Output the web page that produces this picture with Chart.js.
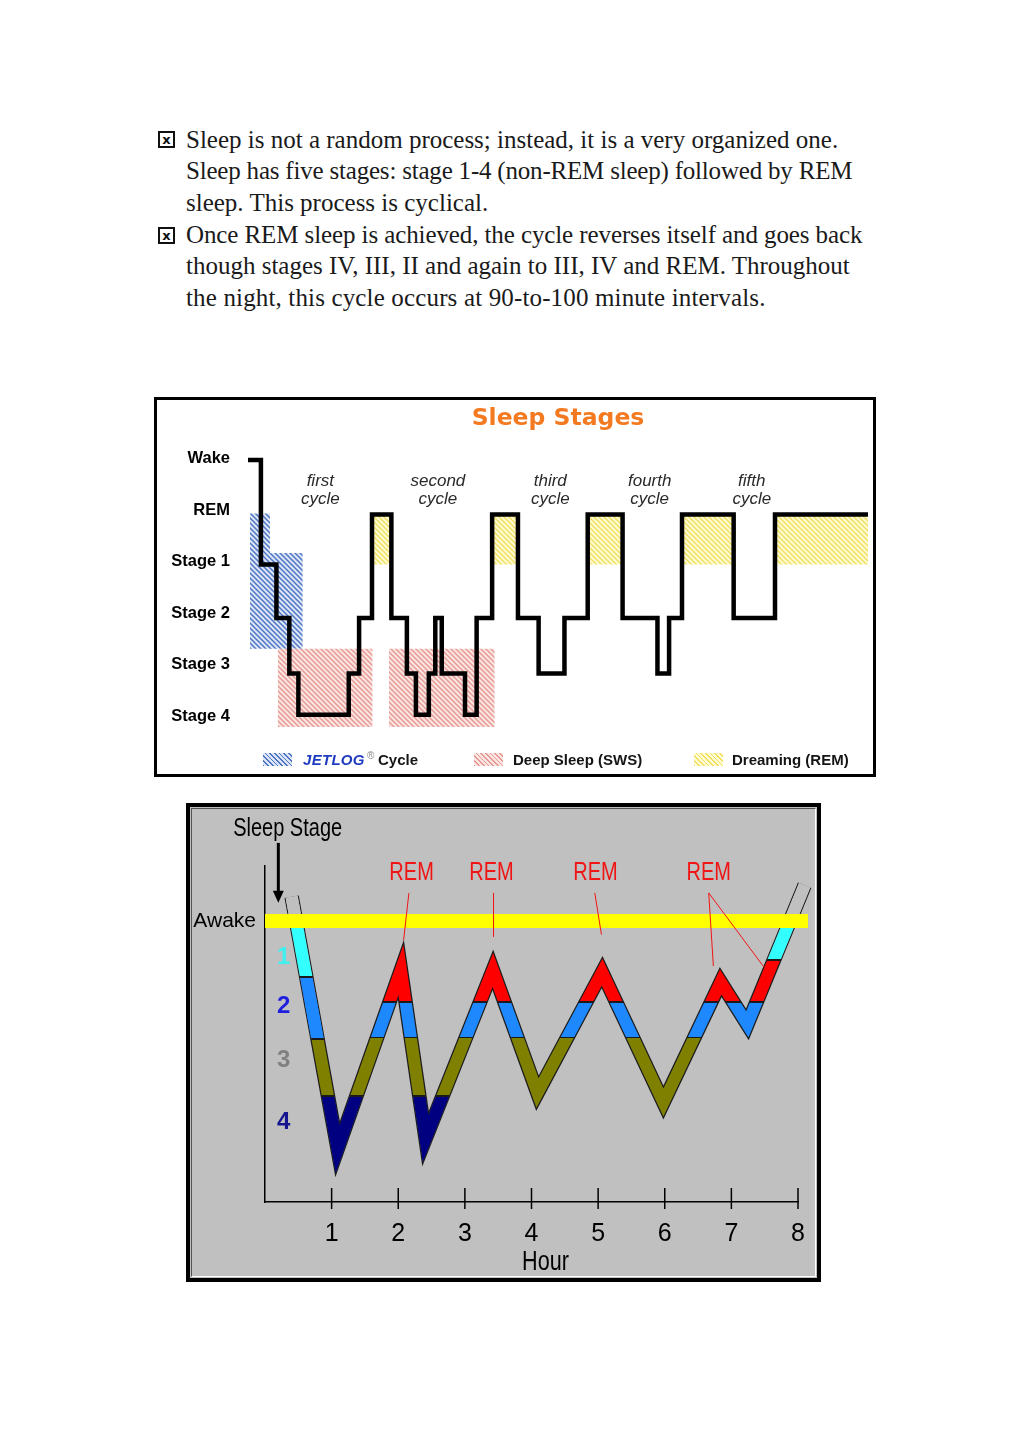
<!DOCTYPE html>
<html>
<head>
<meta charset="utf-8">
<script src="https://cdn.jsdelivr.net/npm/chart.js@4.4.1/dist/chart.umd.min.js"></script>
<style>
  body { margin: 0; background: #fff; }
  #page { position: relative; width: 1024px; height: 1449px; overflow: hidden; font-family: "Liberation Sans", Arial, sans-serif; }
  .line { position: absolute; left: 186px; font-family: "Liberation Serif", "Times New Roman", serif; font-size: 25px; line-height: 32px; color: #1a1a1a; white-space: nowrap; }
  .box { position: absolute; left: 158px; width: 13px; height: 13px; border: 2px solid #111; font: bold 13px/13px "DejaVu Sans", sans-serif; text-align: center; color: #111; }
  #frame1 { position: absolute; left: 154px; top: 397px; width: 722px; height: 380px; border: 3px solid #000; box-sizing: border-box; background: #fff; }
  #c1 { position: absolute; left: 157px; top: 400px; }
  .leg { position: absolute; top: 750px; font: bold 15px/20px "Liberation Sans", Arial, sans-serif; color: #151515; white-space: nowrap; }
  .sw { position: absolute; top: 753px; width: 29px; height: 13px; }
  #frame2 { position: absolute; left: 186px; top: 803px; width: 635px; height: 479px; border: 4px solid #000; box-sizing: border-box; background: #c0c0c0; }
  #bevel { position: absolute; left: 191px; top: 808px; width: 625px; height: 469px; box-sizing: border-box; border: 1px solid; border-color: #555 #fff #fff #555; }
  #c2 { position: absolute; left: 192px; top: 809px; }
</style>
</head>
<body>
<div id="page">
  <div class="box" style="top:131px">x</div>
  <div class="line" style="top:124px">Sleep is not a random process; instead, it is a very organized one.</div>
  <div class="line" style="top:155px;letter-spacing:-0.2px">Sleep has five stages: stage 1-4 (non-REM sleep) followed by REM</div>
  <div class="line" style="top:187px">sleep. This process is cyclical.</div>
  <div class="box" style="top:227px">x</div>
  <div class="line" style="top:219px;letter-spacing:-0.1px">Once REM sleep is achieved, the cycle reverses itself and goes back</div>
  <div class="line" style="top:250px">though stages IV, III, II and again to III, IV and REM. Throughout</div>
  <div class="line" style="top:282px;letter-spacing:0.15px">the night, this cycle occurs at 90-to-100 minute intervals.</div>

  <div id="frame1"></div>
  <canvas id="c1" width="716" height="374"></canvas>
  <div class="sw" style="left:263px;background:repeating-linear-gradient(45deg,#4e74c4 0 1.4px,#dce5f5 1.4px 3.3px)"></div>
  <div class="leg" style="left:303px;color:#1f3bc0;font-style:italic;letter-spacing:0.3px">JETLOG</div>
  <div class="leg" style="left:367px;top:746px;font-size:10px;color:#888;font-weight:normal">®</div>
  <div class="leg" style="left:378px">Cycle</div>
  <div class="sw" style="left:474px;background:repeating-linear-gradient(45deg,#e79a94 0 1.4px,#fbe5e2 1.4px 3.3px)"></div>
  <div class="leg" style="left:513px">Deep Sleep (SWS)</div>
  <div class="sw" style="left:694px;background:repeating-linear-gradient(45deg,#f2df62 0 1.4px,#fffbd2 1.4px 3.3px)"></div>
  <div class="leg" style="left:732px">Dreaming (REM)</div>

  <div id="frame2"></div>
  <div id="bevel"></div>
  <canvas id="c2" width="623" height="467"></canvas>
</div>

<script>
// ---- top chart: stepped hypnogram, minutes after lights out ----
var stepTimes = [0, 10, 22, 32, 39, 78, 86, 96, 111, 123, 130, 140, 145, 150, 168, 177, 189, 209, 225, 245, 263, 290, 317, 326, 336, 376, 408, 480];
var stepStages = ['Wake', 'Stage 1', 'Stage 2', 'Stage 3', 'Stage 4', 'Stage 3', 'Stage 2', 'REM', 'Stage 2', 'Stage 3',
  'Stage 4', 'Stage 3', 'Stage 2', 'Stage 3', 'Stage 4', 'Stage 2', 'REM', 'Stage 2', 'Stage 3', 'Stage 2',
  'REM', 'Stage 2', 'Stage 3', 'Stage 2', 'REM', 'Stage 2', 'REM', 'REM'];
var stageNames = ['Wake', 'REM', 'Stage 1', 'Stage 2', 'Stage 3', 'Stage 4'];
var stageTicks = [6, 5, 4, 3, 2, 1];
var stageLevels = [5.98, 4.92, 3.95, 2.91, 1.83, 1.03];
var cycleNames = ['first', 'second', 'third', 'fourth', 'fifth'];
var cycleTimes = [56, 147, 234, 311, 390];
var jetlogTimes = [1.5, 17, 42.4];
var jetlogTop = [4.94, 4.17, 4.17];
var jetlogBottom = 2.31;
var swsBlocks = [[23, 96.5], [109, 191]];
var swsRange = [0.79, 2.31];

// ---- bottom chart: sleep stage ribbon over 8 hours ----
var hourTicks = [1, 2, 3, 4, 5, 6, 7, 8];
var cycleHours = [0.40, 1.09, 2.04, 2.41, 3.42, 4.09, 5.06, 5.98, 6.84, 7.24, 8.10];
var cycleDepth = [-0.44, 4.15, 0.89, 3.96, 0.89, 3.13, 0.93, 3.30, 1.11, 1.88, -0.65];
var depthTicks = [0.67, 1.55, 2.53, 3.67];
var depthLabels = ['1', '2', '3', '4'];
var depthColors = ['#3ff0f0', '#1f1fe0', '#808080', '#15158f'];
var remLabelHours = [2.2, 3.4, 4.96, 6.66];
var remPointers = [[2.16, 2.08, 0.35], [3.43, 3.43, 0.29], [4.95, 5.05, 0.25], [6.66, 6.73, 0.82], [6.66, 7.49, 0.84]];

var GRAY = '#c0c0c0', RED = '#ff0000', BLUE = '#1e88ff', OLIVE = '#808000', NAVY = '#000080', CYAN = '#33ffff', NONE = 'rgba(0,0,0,0)';
var EDGE = '#1a1a1a';
var SANS = '"Liberation Sans", Arial, sans-serif';

function hatch(lineColor, bgColor) {
  var c = document.createElement('canvas');
  c.width = 5; c.height = 5;
  var x = c.getContext('2d');
  x.fillStyle = bgColor;
  x.fillRect(0, 0, 5, 5);
  x.strokeStyle = lineColor;
  x.lineWidth = 1.5;
  [-5, 0, 5].forEach(function(k) {
    x.beginPath(); x.moveTo(k - 1, -1); x.lineTo(k + 6, 6); x.stroke();
  });
  return x.createPattern(c, 'repeat');
}

function levelOf(name) { return stageLevels[stageNames.indexOf(name)]; }

function block(t0, t1, top, bottom, bg) {
  return {
    data: [{x: t0, y: top}, {x: t1, y: top}],
    borderWidth: 0, pointRadius: 0, backgroundColor: bg, fill: {value: bottom}
  };
}

var ctx1 = document.getElementById('c1').getContext('2d');
var blueHatch = hatch('#4e74c4', '#dce5f5');
var redHatch = hatch('#e79a94', '#fbe5e2');
var yellowHatch = hatch('#f2df62', '#fffbd2');

var sets1 = [{
  data: stepTimes.map(function(t, i) { return {x: t, y: levelOf(stepStages[i])}; }),
  borderColor: '#000', borderWidth: 4.5, stepped: true, pointRadius: 0, fill: false,
  borderJoinStyle: 'miter', borderCapStyle: 'butt'
}];
stepStages.forEach(function(s, i) {
  if (s === 'REM' && i < stepTimes.length - 1) {
    sets1.push(block(stepTimes[i], stepTimes[i + 1], levelOf('REM'), levelOf('Stage 1'), yellowHatch));
  }
});
swsBlocks.forEach(function(b) { sets1.push(block(b[0], b[1], swsRange[1], swsRange[0], redHatch)); });
sets1.push({
  data: jetlogTimes.map(function(t, i) { return {x: t, y: jetlogTop[i]}; }),
  stepped: true, borderWidth: 0, pointRadius: 0, backgroundColor: blueHatch, fill: {value: jetlogBottom}
});

var cycleText = {
  id: 'cycleText',
  afterDatasetsDraw: function(chart) {
    var c = chart.ctx, xs = chart.scales.x, ys = chart.scales.y;
    c.save();
    c.font = 'italic 17px ' + SANS;
    c.fillStyle = '#2a2a2a';
    c.textAlign = 'center';
    c.textBaseline = 'middle';
    cycleNames.forEach(function(n, i) {
      var px = xs.getPixelForValue(cycleTimes[i]);
      c.fillText(n, px, ys.getPixelForValue(5.56));
      c.fillText('cycle', px, ys.getPixelForValue(5.21));
    });
    c.restore();
  }
};

new Chart(ctx1, {
  type: 'line',
  data: {datasets: sets1},
  options: {
    responsive: false, animation: false, devicePixelRatio: 1,
    layout: {padding: {left: 0, right: 5, top: 0, bottom: 32}},
    plugins: {
      legend: {display: false}, tooltip: {enabled: false},
      title: {
        display: true, text: 'Sleep Stages', color: '#f47a22', fullSize: false,
        font: {family: '"DejaVu Sans", Verdana, sans-serif', size: 23.5, weight: 'bold'},
        padding: {top: 5, bottom: 0}
      }
    },
    scales: {
      x: {type: 'linear', min: 0, max: 480, display: false},
      y: {
        type: 'linear', min: 0.5, max: 6.5,
        afterBuildTicks: function(s) { s.ticks = stageTicks.slice().sort().map(function(v) { return {value: v}; }); },
        afterFit: function(s) { s.width = 91; },
        ticks: {
          padding: 18, color: '#000',
          font: {family: SANS, size: 16.5, weight: 'bold'},
          callback: function(v) { return stageNames[stageTicks.indexOf(v)]; }
        },
        grid: {display: false, drawTicks: false},
        border: {display: false}
      }
    }
  },
  plugins: [cycleText]
});

// ---- bottom chart ----
function bandStroke(chart, bounds, colors) {
  var area = chart.chartArea;
  if (!area) return colors[0];
  var ys = chart.scales.y, h = chart.height, e = 0.8;
  var g = chart.ctx.createLinearGradient(0, 0, 0, h);
  var f = function(p) { return Math.min(1, Math.max(0, p / h)); };
  g.addColorStop(0, colors[0]);
  bounds.forEach(function(b, i) {
    var p = ys.getPixelForValue(b);
    g.addColorStop(f(p - e), colors[i]);
    g.addColorStop(f(p - e), EDGE);
    g.addColorStop(f(p + e), EDGE);
    g.addColorStop(f(p + e), colors[i + 1]);
  });
  g.addColorStop(1, colors[colors.length - 1]);
  return g;
}

function ribbon(from, to, width, colorFn) {
  return {
    data: cycleHours.slice(from, to).map(function(h, i) { return {x: h, y: cycleDepth[from + i]}; }),
    borderWidth: width, borderColor: colorFn, pointRadius: 0, fill: false,
    borderJoinStyle: 'miter', borderCapStyle: 'butt', clip: false
  };
}

var n = cycleHours.length;
var sets2 = [
  {data: [{x: 0, y: 0}, {x: 8.15, y: 0}], borderColor: '#ffff00', borderWidth: 14, pointRadius: 0, borderCapStyle: 'butt', clip: false},
  ribbon(n - 2, n, 12.4, function(c) { return bandStroke(c.chart, [0, 0.71], [GRAY, CYAN, NONE]); }),
  ribbon(0, 2, 12.4, function(c) { return bandStroke(c.chart, [0, 1.02, 2.15], [GRAY, CYAN, BLUE, NONE]); }),
  ribbon(0, 5, 12.4, function(c) { return bandStroke(c.chart, [3.18], [NONE, NAVY]); }),
  ribbon(0, n, 12, function(c) { return bandStroke(c.chart, [0, 1.47, 2.12], [GRAY, RED, BLUE, OLIVE]); }),
  ribbon(0, n, 14.5, '#1c1c1c')
];

// condensed look for the hand-placed captions
function narrowText(c, text, x, y, size) {
  c.save();
  c.translate(x, y);
  c.scale(0.8, 1);
  c.font = size + 'px ' + SANS;
  c.fillText(text, 0, 0);
  c.restore();
}

var notes = {
  id: 'notes',
  afterDraw: function(chart) {
    var c = chart.ctx, xs = chart.scales.x, ys = chart.scales.y;
    c.save();
    // hour ticks cross the axis
    c.strokeStyle = '#000';
    c.lineWidth = 1.5;
    xs.ticks.forEach(function(t) {
      var px = xs.getPixelForValue(t.value);
      c.beginPath(); c.moveTo(px, ys.bottom - 14); c.lineTo(px, ys.bottom + 7); c.stroke();
    });
    c.textAlign = 'center';
    c.textBaseline = 'middle';
    // REM labels with pointer lines
    c.fillStyle = '#f01414';
    remLabelHours.forEach(function(h) { narrowText(c, 'REM', xs.getPixelForValue(h), ys.getPixelForValue(-0.87), 25); });
    c.strokeStyle = '#f01414';
    c.lineWidth = 1;
    remPointers.forEach(function(p) {
      c.beginPath();
      c.moveTo(xs.getPixelForValue(p[0]), ys.getPixelForValue(-0.51));
      c.lineTo(xs.getPixelForValue(p[1]), ys.getPixelForValue(p[2]));
      c.stroke();
    });
    // axis captions
    c.fillStyle = '#000';
    narrowText(c, 'Sleep Stage', xs.getPixelForValue(0.34), ys.getPixelForValue(-1.67), 25);
    narrowText(c, 'Hour', xs.getPixelForValue(4.21), ys.bottom + 61, 27);
    var ax = xs.getPixelForValue(0.2), a0 = ys.getPixelForValue(-1.42), a1 = ys.getPixelForValue(-0.33);
    c.strokeStyle = '#000';
    c.lineWidth = 3;
    c.beginPath(); c.moveTo(ax, a0); c.lineTo(ax, a1 - 10); c.stroke();
    c.beginPath(); c.moveTo(ax - 5.5, a1 - 12); c.lineTo(ax + 5.5, a1 - 12); c.lineTo(ax, a1); c.closePath(); c.fill();
    c.restore();
  }
};

new Chart(document.getElementById('c2').getContext('2d'), {
  type: 'line',
  data: {datasets: sets2},
  options: {
    responsive: false, animation: false, devicePixelRatio: 1,
    layout: {padding: {left: 0, right: 17, top: 57, bottom: 0}},
    plugins: {legend: {display: false}, tooltip: {enabled: false}},
    scales: {
      x: {
        type: 'linear', min: 0, max: 8,
        afterBuildTicks: function(s) { s.ticks = hourTicks.map(function(h) { return {value: h}; }); },
        afterFit: function(s) { s.height = 74; s.paddingLeft = 0; s.paddingRight = 0; },
        ticks: {padding: 17, color: '#000', maxRotation: 0, autoSkip: false, font: {family: SANS, size: 25}},
        grid: {display: false, drawTicks: false},
        border: {display: true, color: '#000', width: 1.5}
      },
      y: {
        type: 'linear', reverse: true, min: -1, max: 5.11, position: 'left', weight: 1,
        afterBuildTicks: function(s) { s.ticks = [{value: 0}]; },
        afterFit: function(s) { s.width = 73; },
        ticks: {padding: 9, color: '#000', font: {family: SANS, size: 21}, callback: function() { return 'Awake'; }},
        grid: {display: false, drawTicks: false},
        border: {display: true, color: '#000', width: 1.5}
      },
      y2: {
        type: 'linear', reverse: true, min: -1, max: 5.11, position: 'left', weight: 0,
        afterBuildTicks: function(s) { s.ticks = depthTicks.map(function(v) { return {value: v}; }); },
        afterFit: function(s) { s.width = 0; },
        ticks: {
          mirror: true, padding: 12, font: {family: SANS, size: 24, weight: 'bold'},
          color: function(c) { return depthColors[c.index]; },
          callback: function(v, i) { return depthLabels[i]; }
        },
        grid: {display: false, drawTicks: false},
        border: {display: false}
      }
    }
  },
  plugins: [notes]
});
</script>
</body>
</html>
